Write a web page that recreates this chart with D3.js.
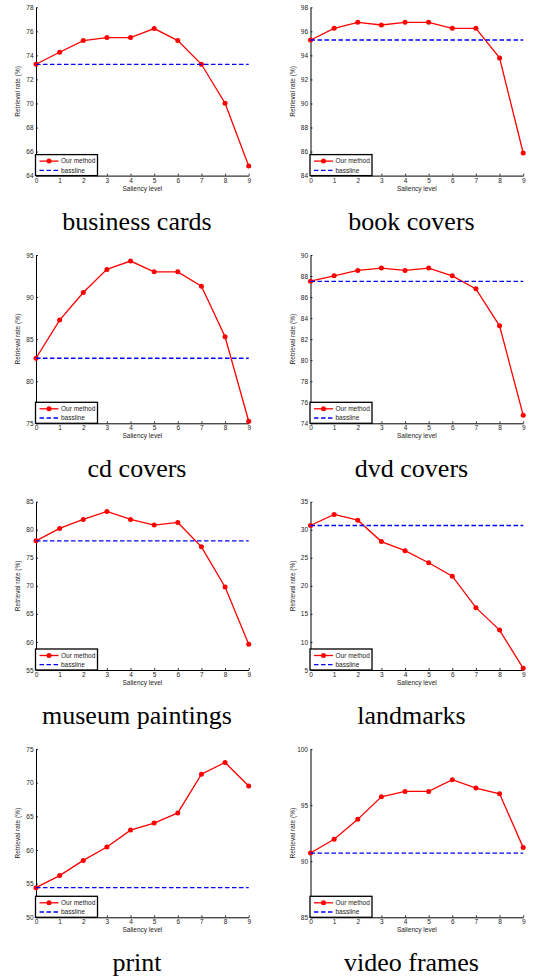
<!DOCTYPE html>
<html>
<head>
<meta charset="utf-8">
<script src="https://cdn.jsdelivr.net/npm/d3@7"></script>
<style>
  body { margin: 0; background: #fff; }
  svg text { font-family: "Liberation Sans", Arial, sans-serif; }
</style>
</head>
<body>
<div id="chart"></div>
<script>
// data
const levels = [0, 1, 2, 3, 4, 5, 6, 7, 8, 9];
const titles = ["business cards", "book covers", "cd covers", "dvd covers",
                "museum paintings", "landmarks", "print", "video frames"];

const businessCards   = [73.26, 74.26, 75.23, 75.48, 75.48, 76.23, 75.23, 73.26, 70.02, 64.8];
const bookCovers      = [95.28, 96.25, 96.75, 96.53, 96.75, 96.75, 96.25, 96.25, 93.79, 85.88];
const cdCovers        = [82.73, 87.27, 90.54, 93.29, 94.28, 93.0, 93.0, 91.3, 85.28, 75.24];
const dvdCovers       = [87.51, 88.02, 88.53, 88.76, 88.53, 88.76, 88.02, 86.78, 83.27, 74.76];
const museumPaintings = [78.02, 80.23, 81.84, 83.27, 81.84, 80.83, 81.3, 76.95, 69.79, 59.6];
const landmarks       = [30.76, 32.73, 31.71, 27.89, 26.27, 24.12, 21.73, 16.11, 12.11, 5.3];
const print           = [54.4, 56.2, 58.45, 60.45, 62.95, 64.0, 65.5, 71.25, 73.0, 69.5];
const videoFrames     = [90.73, 91.96, 93.73, 95.74, 96.22, 96.22, 97.27, 96.52, 96.01, 91.21];

const ourMethod = [businessCards, bookCovers, cdCovers, dvdCovers,
                   museumPaintings, landmarks, print, videoFrames];
const baseline  = [73.26, 95.28, 82.73, 87.5, 78.0, 30.76, 54.4, 90.72];

const yDomains = [[64, 78], [84, 98], [75, 95], [74, 90], [55, 85], [5, 35], [50, 75], [85, 100]];
const yTicks = [
  [64, 66, 68, 70, 72, 74, 76, 78],
  [84, 86, 88, 90, 92, 94, 96, 98],
  [75, 80, 85, 90, 95],
  [74, 76, 78, 80, 82, 84, 86, 88, 90],
  [55, 60, 65, 70, 75, 80, 85],
  [5, 10, 15, 20, 25, 30, 35],
  [50, 55, 60, 65, 70, 75],
  [85, 90, 95, 100]
];
const legendLabels = ["Our method", "bassline"];

const svgWidth = 537, svgHeight = 977;
const colX = [36, 310.5];
const rowY = [7.3, 255, 501.7, 749];
const plotW = 212.7, plotH = 168.3;

const svg = d3.select('#chart')
    .append('svg')
    .attr('width', svgWidth)
    .attr('height', svgHeight);

titles.forEach((title, i) => {
    const x0 = colX[i % 2], y0 = rowY[Math.floor(i / 2)];

    const g = svg.append('g')
        .attr('transform', `translate(${x0},${y0})`);

    const xScale = d3.scaleLinear().domain([0, 9]).range([0, plotW]);
    const yScale = d3.scaleLinear().domain(yDomains[i]).range([plotH, 0]);

    // axes, ticks pointing inward like matlab
    const xAxis = g.append('g')
        .attr('transform', `translate(0,${plotH})`)
        .call(d3.axisBottom(xScale).tickValues(levels).tickSizeInner(-2).tickSizeOuter(0).tickPadding(2.5));
    const yAxis = g.append('g')
        .call(d3.axisLeft(yScale).tickValues(yTicks[i]).tickSizeInner(-2).tickSizeOuter(0).tickPadding(2.5));

    [xAxis, yAxis].forEach(a => {
        a.select('.domain').attr('stroke', '#000').attr('stroke-width', 1);
        a.selectAll('.tick line').attr('stroke', '#000').attr('stroke-width', 0.8);
        a.selectAll('.tick text')
            .attr('font-size', 6.5)
            .attr('fill', '#222')
            .style('font-family', '"Liberation Sans", Arial, sans-serif');
    });

    // axis titles
    g.append('text')
        .attr('x', plotW / 2)
        .attr('y', plotH + 15)
        .attr('text-anchor', 'middle')
        .attr('font-size', 6.5)
        .attr('fill', '#222')
        .text('Saliency level');

    g.append('text')
        .attr('transform', `translate(-16,${plotH / 2}) rotate(-90)`)
        .attr('text-anchor', 'middle')
        .attr('font-size', 6.5)
        .attr('fill', '#222')
        .text('Retrieval rate (%)');

    // our method
    const line = d3.line()
        .x((d, j) => xScale(levels[j]))
        .y(d => yScale(d));

    g.append('path')
        .datum(ourMethod[i])
        .attr('d', line)
        .attr('fill', 'none')
        .attr('stroke', '#ff0000')
        .attr('stroke-width', 1.3);

    g.selectAll('circle.pt')
        .data(ourMethod[i])
        .join('circle')
        .attr('class', 'pt')
        .attr('cx', (d, j) => xScale(levels[j]))
        .attr('cy', d => yScale(d))
        .attr('r', 2.5)
        .attr('fill', '#ff0000');

    // baseline
    g.append('line')
        .attr('x1', xScale(0))
        .attr('x2', xScale(9))
        .attr('y1', yScale(baseline[i]))
        .attr('y2', yScale(baseline[i]))
        .attr('stroke', '#0000ff')
        .attr('stroke-width', 1.3)
        .attr('stroke-dasharray', '4.5,2.5');

    // legend
    const lg = g.append('g')
        .attr('transform', `translate(0,${plotH - 21})`);
    lg.append('rect')
        .attr('x', -0.5)
        .attr('y', 0)
        .attr('width', 62)
        .attr('height', 21)
        .attr('fill', '#fff')
        .attr('stroke', '#000')
        .attr('stroke-width', 1.3);
    lg.append('line')
        .attr('x1', 3.5).attr('x2', 22.5)
        .attr('y1', 6.5).attr('y2', 6.5)
        .attr('stroke', '#ff0000')
        .attr('stroke-width', 1.3);
    lg.append('circle')
        .attr('cx', 13).attr('cy', 6.5).attr('r', 2.5)
        .attr('fill', '#ff0000');
    lg.append('line')
        .attr('x1', 3.5).attr('x2', 22.5)
        .attr('y1', 15.7).attr('y2', 15.7)
        .attr('stroke', '#0000ff')
        .attr('stroke-width', 1.3)
        .attr('stroke-dasharray', '4.5,2.5');
    lg.selectAll('text')
        .data(legendLabels)
        .join('text')
        .attr('x', 25)
        .attr('y', (d, j) => 6.5 + j * 9.2)
        .attr('dy', '0.35em')
        .attr('font-size', 6.5)
        .attr('fill', '#222')
        .text(d => d);

    // subfigure caption
    svg.append('text')
        .attr('x', x0 + 101)
        .attr('y', y0 + plotH + 54)
        .attr('text-anchor', 'middle')
        .attr('font-size', 26)
        .attr('fill', '#000')
        .style('font-family', '"Liberation Serif", "Times New Roman", serif')
        .text(title);
});
</script>
</body>
</html>
